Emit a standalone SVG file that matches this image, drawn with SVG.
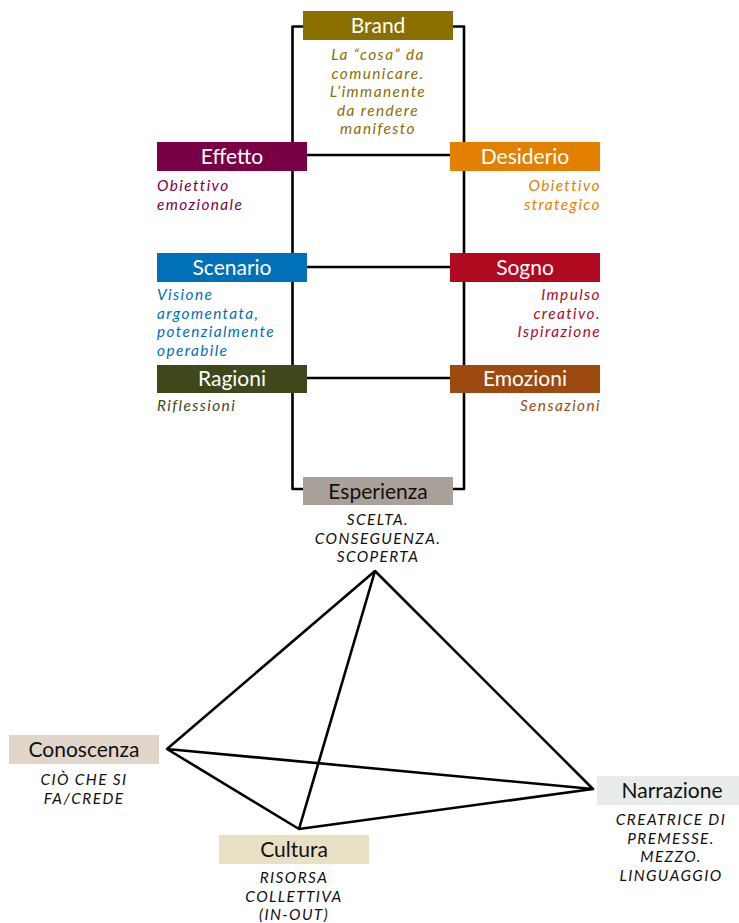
<svg xmlns="http://www.w3.org/2000/svg" width="739" height="923" viewBox="0 0 739 923">
<style>
.lbl{font-family:Lato,"Open Sans","Liberation Sans",sans-serif;font-size:21px;fill:#fff;text-anchor:middle}
.lbld{font-family:Lato,"Open Sans","Liberation Sans",sans-serif;font-size:21px;fill:#111;text-anchor:middle}
.d{font-family:Lato,"Open Sans","Liberation Sans",sans-serif;font-size:15.4px;font-style:italic;letter-spacing:1.4px}
.c{text-anchor:middle}
.r{text-anchor:end}
.ln{fill:none;stroke:#000;stroke-width:2.6;stroke-linejoin:round}
</style>
<rect width="739" height="923" fill="#fff"/>
<g id="connectors">
<path class="ln" d="M378 26.5 H292.5 V489 H378"/>
<path class="ln" d="M378 26.5 H464 V489 H378"/>
<line class="ln" x1="307" y1="155" x2="450" y2="155"/>
<line class="ln" x1="307" y1="267" x2="450" y2="267"/>
<line class="ln" x1="307" y1="378" x2="450" y2="378"/>
<polyline class="ln" points="167,749 375,571 593,789 167,749 299,829 593,789"/>
<line class="ln" x1="375" y1="571" x2="299" y2="829"/>
</g>
<g id="brand">
<rect x="303" y="11" width="150" height="29" fill="#8b6e00"/>
<text class="lbl" x="378" y="33">Brand</text>
<text class="d c" fill="#8b6e00"><tspan x="378" y="60">La “cosa” da</tspan><tspan x="378" y="78.6">comunicare.</tspan><tspan x="378" y="97.2">L’immanente</tspan><tspan x="378" y="115.8">da rendere</tspan><tspan x="378" y="134.4">manifesto</tspan></text>
</g>
<g id="effetto">
<rect x="157" y="142" width="150" height="29" fill="#7a0045"/>
<text class="lbl" x="232" y="164">Effetto</text>
<text class="d" fill="#7a0045"><tspan x="157" y="191">Obiettivo</tspan><tspan x="157" y="209.6">emozionale</tspan></text>
</g>
<g id="desiderio">
<rect x="450" y="142" width="150" height="29" fill="#e38000"/>
<text class="lbl" x="525" y="164">Desiderio</text>
<text class="d r" fill="#e38000"><tspan x="601" y="191">Obiettivo</tspan><tspan x="601" y="209.6">strategico</tspan></text>
</g>
<g id="scenario">
<rect x="157" y="253" width="150" height="29" fill="#0070b8"/>
<text class="lbl" x="232" y="275">Scenario</text>
<text class="d" fill="#0070b8"><tspan x="157" y="300">Visione</tspan><tspan x="157" y="318.6">argomentata,</tspan><tspan x="157" y="337.2">potenzialmente</tspan><tspan x="157" y="355.8">operabile</tspan></text>
</g>
<g id="sogno">
<rect x="450" y="253" width="150" height="29" fill="#b1091f"/>
<text class="lbl" x="525" y="275">Sogno</text>
<text class="d r" fill="#b1091f"><tspan x="601" y="300">Impulso</tspan><tspan x="601" y="318.6">creativo.</tspan><tspan x="601" y="337.2">Ispirazione</tspan></text>
</g>
<g id="ragioni">
<rect x="157" y="365" width="150" height="28" fill="#3e481b"/>
<text class="lbl" x="232" y="386">Ragioni</text>
<text class="d" fill="#3e481b"><tspan x="157" y="411">Riflessioni</tspan></text>
</g>
<g id="emozioni">
<rect x="450" y="365" width="150" height="28" fill="#9c4a10"/>
<text class="lbl" x="525" y="386">Emozioni</text>
<text class="d r" fill="#9c4a10"><tspan x="601" y="411">Sensazioni</tspan></text>
</g>
<g id="esperienza">
<rect x="303" y="477" width="150" height="28" fill="#a9a199"/>
<text class="lbld" x="378" y="499">Esperienza</text>
<text class="d c" fill="#111"><tspan x="378" y="525">SCELTA.</tspan><tspan x="378" y="543.6">CONSEGUENZA.</tspan><tspan x="378" y="562.2">SCOPERTA</tspan></text>
</g>
<g id="conoscenza">
<rect x="9" y="735" width="150" height="29" fill="#e2d6ca"/>
<text class="lbld" x="84" y="757">Conoscenza</text>
<text class="d c" fill="#111"><tspan x="84" y="785">CIÒ CHE SI</tspan><tspan x="84" y="803.6">FA/CREDE</tspan></text>
</g>
<g id="cultura">
<rect x="219" y="835" width="150" height="29" fill="#e9dfc5"/>
<text class="lbld" x="294" y="857">Cultura</text>
<text class="d c" fill="#111"><tspan x="294" y="883">RISORSA</tspan><tspan x="294" y="901.6">COLLETTIVA</tspan><tspan x="294" y="920.2">(IN-OUT)</tspan></text>
</g>
<g id="narrazione">
<rect x="597" y="776" width="150" height="29" fill="#e8ece8"/>
<text class="lbld" x="672" y="798">Narrazione</text>
<text class="d c" fill="#111"><tspan x="671" y="825">CREATRICE DI</tspan><tspan x="671" y="843.6">PREMESSE.</tspan><tspan x="671" y="862.2">MEZZO.</tspan><tspan x="671" y="880.8">LINGUAGGIO</tspan></text>
</g>
</svg>
